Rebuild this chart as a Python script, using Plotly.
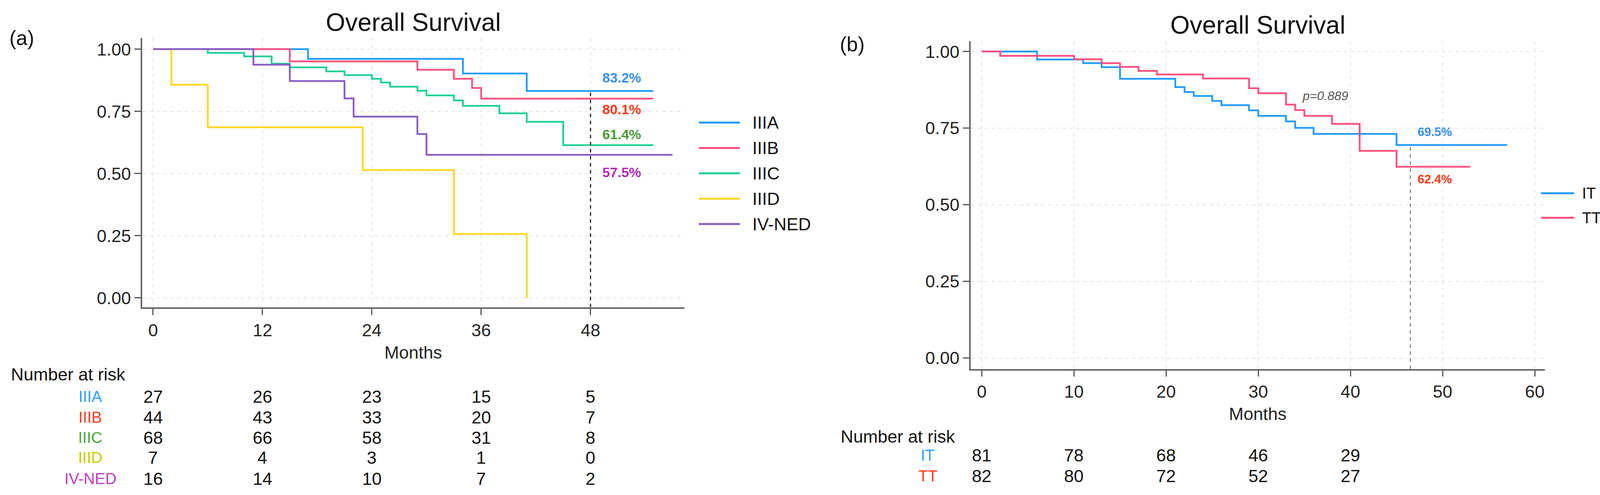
import plotly.graph_objects as go

W, H = 4196, 1266
FONT = "Liberation Sans, Arial, Helvetica, sans-serif"

# ---------------- Panel (a) data ----------------
stages = ["IIIA", "IIIB", "IIIC", "IIID", "IV-NED"]
a_times = {
    "IIIA": [0, 17, 34, 41, 54.9],
    "IIIB": [0, 15, 29, 33, 35, 36, 54.9],
    "IIIC": [0, 6, 10, 13, 15, 19, 21, 24, 25, 26, 29, 30, 33, 34, 38, 41, 45, 54.9],
    "IIID": [0, 2, 6, 23, 33, 41],
    "IV-NED": [0, 11, 15, 21, 22, 29, 30, 57],
}
a_surv = {
    "IIIA": [1, 0.961, 0.902, 0.832, 0.832],
    "IIIB": [1, 0.951, 0.917, 0.881, 0.844, 0.801, 0.801],
    "IIIC": [1, 0.985, 0.971, 0.942, 0.927, 0.911, 0.896, 0.881, 0.866, 0.849, 0.833,
             0.814, 0.794, 0.772, 0.742, 0.708, 0.614, 0.614],
    "IIID": [1, 0.857, 0.686, 0.514, 0.257, 0],
    "IV-NED": [1, 0.9375, 0.872, 0.802, 0.729, 0.659, 0.575, 0.575],
}
a_colors = ["#1f9bff", "#ff4f7e", "#1fcf98", "#ffd71f", "#8a5cc2"]
a_pct_labels = ["83.2%", "80.1%", "61.4%", "57.5%"]
a_pct_y = [0.885, 0.759, 0.657, 0.505]
a_pct_colors = ["#3a8ff5", "#ff3c1c", "#4a9a38", "#b32fb3"]
a_landmark = 48
a_risk_months = [0, 12, 24, 36, 48]
a_risk = {
    "IIIA": [27, 26, 23, 15, 5],
    "IIIB": [44, 43, 33, 20, 7],
    "IIIC": [68, 66, 58, 31, 8],
    "IIID": [7, 4, 3, 1, 0],
    "IV-NED": [16, 14, 10, 7, 2],
}
a_risk_label_colors = ["#2e9bff", "#ff3c1c", "#4aa63a", "#c8c800", "#c03cc0"]
a_xticks = [0, 12, 24, 36, 48]

# ---------------- Panel (b) data ----------------
groups = ["IT", "TT"]
b_times = {
    "IT": [0, 6, 11, 13, 15, 21, 22, 23, 25, 26, 29, 30, 33, 34, 36, 45, 57],
    "TT": [0, 2, 10, 13, 15, 17, 19, 24, 29, 30, 33, 34, 35, 38, 41, 45, 53],
}
b_surv = {
    "IT": [1, 0.974, 0.962, 0.949, 0.911, 0.884, 0.868, 0.855, 0.839, 0.825, 0.808,
           0.790, 0.772, 0.751, 0.731, 0.695, 0.695],
    "TT": [1, 0.986, 0.975, 0.962, 0.950, 0.937, 0.925, 0.912, 0.880, 0.864, 0.827,
           0.809, 0.790, 0.764, 0.676, 0.624, 0.624],
}
b_colors = ["#1f9bff", "#ff4f7e"]
b_pct_labels = ["69.5%", "62.4%"]
b_pct_y = [0.7375, 0.583]
b_pct_colors = ["#3a8ff5", "#ff3c1c"]
b_landmark = 46.5
b_pvalue = "p=0.889"
b_risk_months = [0, 10, 20, 30, 40]
b_risk = {"IT": [81, 78, 68, 46, 29], "TT": [82, 80, 72, 52, 27]}
b_risk_label_colors = ["#2e9bff", "#ff3c1c"]
b_xticks = [0, 10, 20, 30, 40, 50, 60]
yticks = [0, 0.25, 0.5, 0.75, 1.0]


def px(x):
    return x / W


def py(y):
    return 1 - y / H


fig = go.Figure()

# curves panel a
for name, col in zip(stages, a_colors):
    fig.add_trace(go.Scatter(x=a_times[name], y=a_surv[name], mode="lines",
                             line=dict(color=col, width=4.5, shape="hv"),
                             name=name, xaxis="x", yaxis="y", showlegend=False))
# landmark a
a_ybot = -0.0377
fig.add_trace(go.Scatter(x=[a_landmark, a_landmark], y=[a_ybot, a_surv["IIIA"][-1]],
                         mode="lines", line=dict(color="#222", width=3, dash="dash"),
                         xaxis="x", yaxis="y", showlegend=False))

# curves panel b
for name, col in zip(groups, b_colors):
    fig.add_trace(go.Scatter(x=b_times[name], y=b_surv[name], mode="lines",
                             line=dict(color=col, width=4.5, shape="hv"),
                             name=name, xaxis="x2", yaxis="y2", showlegend=False))
b_ybot = -0.0357
fig.add_trace(go.Scatter(x=[b_landmark, b_landmark], y=[b_ybot, b_surv["IT"][-1]],
                         mode="lines", line=dict(color="#555", width=2, dash="dash"),
                         xaxis="x2", yaxis="y2", showlegend=False))

axis_common = dict(showline=True, linecolor="#666", linewidth=3.5, mirror=False,
                   ticks="outside", ticklen=16, tickwidth=3, tickcolor="#555",
                   showgrid=True, gridcolor="#e3e3e3", gridwidth=2, griddash="dash",
                   zeroline=False, tickfont=dict(family=FONT, size=45, color="#222"))

fig.update_layout(
    width=W, height=H, margin=dict(l=0, r=0, t=0, b=0),
    paper_bgcolor="white", plot_bgcolor="white", showlegend=False,
    xaxis=dict(domain=[px(364), px(1752)], range=[-1.2, 58.3], tickvals=a_xticks,
               anchor="y", **axis_common),
    yaxis=dict(domain=[py(787), py(97)], range=[a_ybot, 1.0455], tickvals=yticks,
               tickformat=".2f", anchor="x", **axis_common),
    xaxis2=dict(domain=[px(2485), px(3955)], range=[-1.2, 61.1], tickvals=b_xticks,
                anchor="y2", **axis_common),
    yaxis2=dict(domain=[py(945), py(105)], range=[b_ybot, 1.0344], tickvals=yticks,
                tickformat=".2f", anchor="x2", **axis_common),
)

ann = []
shapes = []


def txt(x, y, s, size=45, color="#222", xanchor="center", xref="paper", yref="paper", **kw):
    ann.append(dict(x=x, y=y, text=s, xref=xref, yref=yref, xanchor=xanchor,
                    yanchor="middle", showarrow=False,
                    font=dict(family=FONT, size=size, color=color), **kw))


# titles and panel letters
txt(px(1058), py(57), "Overall Survival", size=64, color="#111")
txt(px(3220), py(64), "Overall Survival", size=64, color="#111")
txt(px(22), py(97), "(a)", size=52, color="#111", xanchor="left")
txt(px(2148), py(113), "(b)", size=52, color="#111", xanchor="left")

# axis titles
txt(px(1058), py(903), "Months", size=45)
txt(px(3220), py(1060), "Months", size=45)

# percent annotations a
for lab, yv, col in zip(a_pct_labels, a_pct_y, a_pct_colors):
    txt(49.2, yv, "<b>" + lab + "</b>", size=35, color=col, xanchor="left", xref="x", yref="y")
# percent annotations b
for lab, yv, col in zip(b_pct_labels, b_pct_y, b_pct_colors):
    txt(47.2, yv, "<b>" + lab + "</b>", size=31, color=col, xanchor="left", xref="x2", yref="y2")
txt(37.3, 0.855, "<i>" + b_pvalue + "</i>", size=32, color="#555", xref="x2", yref="y2")

# legend a (manual keys)
a_leg_rows = [314, 379, 444, 509, 574]
for name, col, yr in zip(stages, a_colors, a_leg_rows):
    shapes.append(dict(type="line", xref="paper", yref="paper", x0=px(1789), x1=px(1894),
                       y0=py(yr), y1=py(yr), line=dict(color=col, width=5)))
    txt(px(1924), py(yr), name, size=45, color="#111", xanchor="left")
# legend b (manual keys)
b_leg_rows = [495, 558]
for name, col, yr in zip(groups, b_colors, b_leg_rows):
    shapes.append(dict(type="line", xref="paper", yref="paper", x0=px(3945), x1=px(4030),
                       y0=py(yr), y1=py(yr), line=dict(color=col, width=5)))
    txt(px(4048), py(yr), name, size=40, color="#111", xanchor="left")

# number at risk a
txt(px(26), py(959), "Number at risk", size=45, color="#111", xanchor="left")
a_rows = [1016, 1069, 1121, 1172, 1226]
for name, col, yr in zip(stages, a_risk_label_colors, a_rows):
    txt(px(231), py(yr), name, size=40, color=col)
    for m, n in zip(a_risk_months, a_risk[name]):
        txt(m, py(yr), str(n), size=45, color="#111", xref="x", yref="paper")

# number at risk b
txt(px(2150), py(1118), "Number at risk", size=45, color="#111", xanchor="left")
b_rows = [1166, 1219]
for name, col, yr in zip(groups, b_risk_label_colors, b_rows):
    txt(px(2375), py(yr), name, size=40, color=col)
    for m, n in zip(b_risk_months, b_risk[name]):
        txt(m, py(yr), str(n), size=45, color="#111", xref="x2", yref="paper")

fig.update_layout(annotations=ann, shapes=shapes)
fig.write_html(
    "out.html",
    config={"displayModeBar": False},
    post_script=("document.body.style.margin='0px';document.body.style.padding='0px';"
                 "document.documentElement.style.overflow='hidden';"),
)
